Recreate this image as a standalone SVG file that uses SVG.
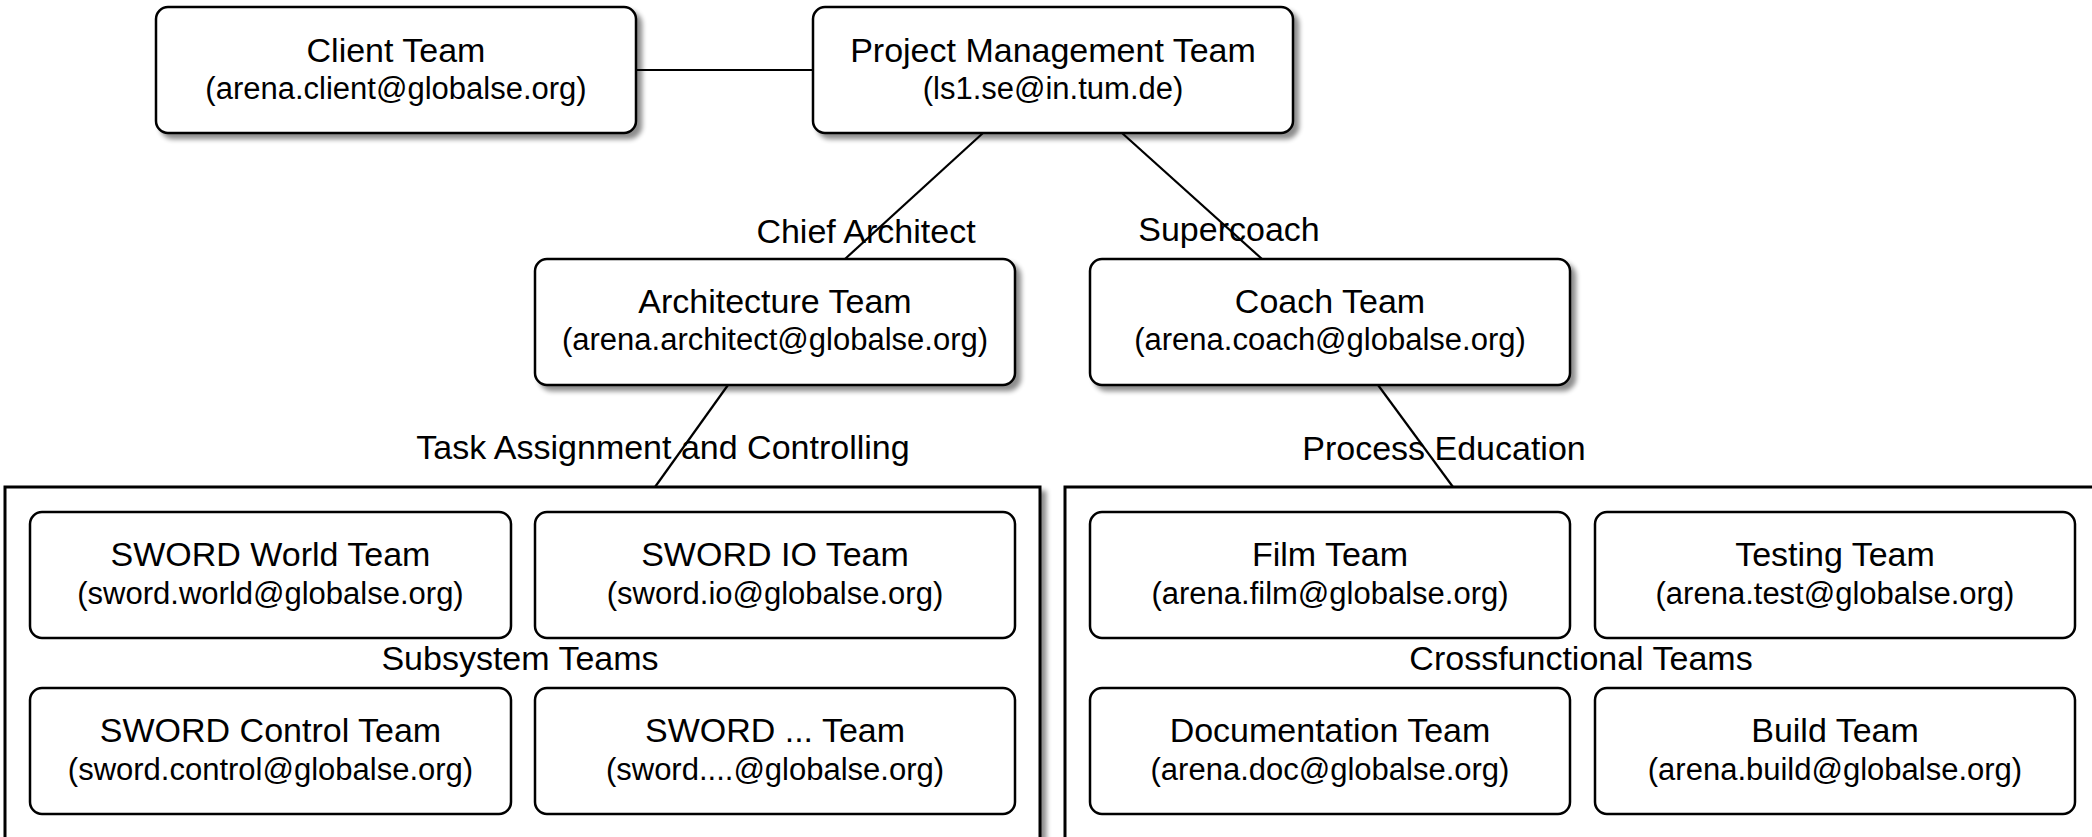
<svg xmlns="http://www.w3.org/2000/svg" width="2092" height="837" viewBox="0 0 2092 837">
<defs>
<filter id="sh" x="-10%" y="-10%" width="130%" height="140%">
<feGaussianBlur in="SourceAlpha" stdDeviation="2.5"/>
<feOffset dx="5" dy="5" result="b"/>
<feComponentTransfer><feFuncA type="linear" slope="0.45"/></feComponentTransfer>
<feMerge><feMergeNode/><feMergeNode in="SourceGraphic"/></feMerge>
</filter>
<style>
.box{fill:#fff;stroke:#000;stroke-width:2.5}
.cont{fill:#fff;stroke:#000;stroke-width:3}
.t{font-family:"Liberation Sans",Arial,Helvetica,sans-serif;font-size:34px;fill:#000;text-anchor:middle}
.e{font-family:"Liberation Sans",Arial,Helvetica,sans-serif;font-size:31px;fill:#000;text-anchor:middle}
.conn line{stroke:#000;stroke-width:2.2}
</style>
</defs>
<rect width="2092" height="837" fill="#fff"/>

<g id="subsystem-teams">
<rect class="cont" x="5" y="487" width="1035" height="420" filter="url(#sh)"/>
<text class="t" x="520" y="670">Subsystem Teams</text>
</g>
<g id="crossfunctional-teams">
<rect class="cont" x="1065" y="487" width="1040" height="420" filter="url(#sh)"/>
<text class="t" x="1581" y="670">Crossfunctional Teams</text>
</g>

<g class="conn" id="connectors">
<line x1="636" y1="70" x2="813" y2="70"/>
<line x1="983" y1="133" x2="845" y2="259"/>
<line x1="1122" y1="133" x2="1262" y2="259"/>
<line x1="728" y1="385" x2="655" y2="487"/>
<line x1="1378" y1="385" x2="1453" y2="487"/>
<text class="t" x="866" y="243">Chief Architect</text>
<text class="t" x="1229" y="241">Supercoach</text>
<text class="t" x="663" y="459">Task Assignment and Controlling</text>
<text class="t" x="1444" y="460">Process Education</text>
</g>

<g id="client-team">
<rect class="box" x="156" y="7" width="480" height="126" rx="12" filter="url(#sh)"/>
<text class="t" x="396" y="62">Client Team</text>
<text class="e" x="396" y="99">(arena.client@globalse.org)</text>
</g>
<g id="project-management-team">
<rect class="box" x="813" y="7" width="480" height="126" rx="12" filter="url(#sh)"/>
<text class="t" x="1053" y="62">Project Management Team</text>
<text class="e" x="1053" y="99">(ls1.se@in.tum.de)</text>
</g>
<g id="architecture-team">
<rect class="box" x="535" y="259" width="480" height="126" rx="12" filter="url(#sh)"/>
<text class="t" x="775" y="313">Architecture Team</text>
<text class="e" x="775" y="350">(arena.architect@globalse.org)</text>
</g>
<g id="coach-team">
<rect class="box" x="1090" y="259" width="480" height="126" rx="12" filter="url(#sh)"/>
<text class="t" x="1330" y="313">Coach Team</text>
<text class="e" x="1330" y="350">(arena.coach@globalse.org)</text>
</g>

<g id="sword-world-team">
<rect class="box" x="30" y="512" width="481" height="126" rx="12"/>
<text class="t" x="270.5" y="566">SWORD World Team</text>
<text class="e" x="270.5" y="604">(sword.world@globalse.org)</text>
</g>
<g id="sword-io-team">
<rect class="box" x="535" y="512" width="480" height="126" rx="12"/>
<text class="t" x="775" y="566">SWORD IO Team</text>
<text class="e" x="775" y="604">(sword.io@globalse.org)</text>
</g>
<g id="sword-control-team">
<rect class="box" x="30" y="688" width="481" height="126" rx="12"/>
<text class="t" x="270.5" y="742">SWORD Control Team</text>
<text class="e" x="270.5" y="780">(sword.control@globalse.org)</text>
</g>
<g id="sword-other-team">
<rect class="box" x="535" y="688" width="480" height="126" rx="12"/>
<text class="t" x="775" y="742">SWORD ... Team</text>
<text class="e" x="775" y="780">(sword....@globalse.org)</text>
</g>

<g id="film-team">
<rect class="box" x="1090" y="512" width="480" height="126" rx="12"/>
<text class="t" x="1330" y="566">Film Team</text>
<text class="e" x="1330" y="604">(arena.film@globalse.org)</text>
</g>
<g id="testing-team">
<rect class="box" x="1595" y="512" width="480" height="126" rx="12"/>
<text class="t" x="1835" y="566">Testing Team</text>
<text class="e" x="1835" y="604">(arena.test@globalse.org)</text>
</g>
<g id="documentation-team">
<rect class="box" x="1090" y="688" width="480" height="126" rx="12"/>
<text class="t" x="1330" y="742">Documentation Team</text>
<text class="e" x="1330" y="780">(arena.doc@globalse.org)</text>
</g>
<g id="build-team">
<rect class="box" x="1595" y="688" width="480" height="126" rx="12"/>
<text class="t" x="1835" y="742">Build Team</text>
<text class="e" x="1835" y="780">(arena.build@globalse.org)</text>
</g>
</svg>
